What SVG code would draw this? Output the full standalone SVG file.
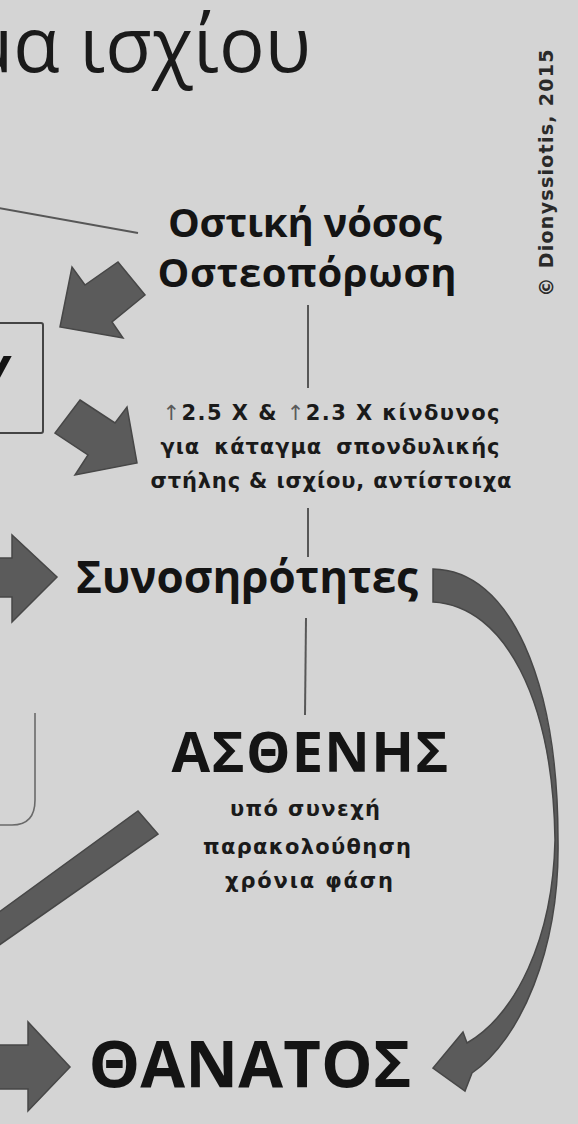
<svg xmlns="http://www.w3.org/2000/svg" width="578" height="1124" viewBox="0 0 578 1124">
<style>
.bg{fill:#d4d4d4}
.arrow{fill:#5b5b5b;stroke:#474747;stroke-width:1.5;stroke-linejoin:miter}
.line{stroke:#575757;stroke-width:2;fill:none}
.thin{stroke:#6a6a6a;stroke-width:1.6;fill:none}
.big{font-family:"Open Sans","Noto Sans",sans-serif;font-weight:700;fill:#141414;text-anchor:middle}
.small{font-family:"DejaVu Sans","Noto Sans",sans-serif;font-weight:700;fill:#1a1a1a;text-anchor:middle;font-size:21px}
.title{font-family:"Open Sans","Noto Sans",sans-serif;font-weight:400;fill:#1a1a1a;font-size:76px}
.copy{font-family:"DejaVu Sans","Liberation Sans",sans-serif;font-weight:700;fill:#2a2a2a;font-size:19px;text-anchor:middle}
</style>
<rect class="bg" x="0" y="0" width="578" height="1124"/>

<g id="title"><text class="title" x="311" y="72" text-anchor="end">μα ισχίου</text></g>
<g id="copyright"><text class="copy" transform="translate(553,173) rotate(-90)" x="0" y="0" textLength="247">© Dionyssiotis, 2015</text></g>

<g id="left-box">
<rect x="-20" y="323" width="63" height="110" rx="2" fill="none" stroke="#444" stroke-width="2"/>
<text class="big" x="-4" y="392" font-size="50">Υ</text>
<path class="thin" d="M35,713 L35,800 Q35,825 12,825 L-5,825"/>
</g>

<g id="osteo-node">
<text class="big" x="305" y="237" font-size="40" textLength="274">Οστική νόσος</text>
<text class="big" x="307" y="287" font-size="40" textLength="299">Οστεοπόρωση</text>
</g>

<g id="risk-node">
<text class="small" x="331" y="420" textLength="337"><tspan fill="#5a5a5a" font-weight="400">↑</tspan>2.5 X &amp; <tspan fill="#5a5a5a" font-weight="400">↑</tspan>2.3 X κίνδυνος</text>
<text class="small" x="330" y="454" textLength="339" word-spacing="6">για κάταγμα σπονδυλικής</text>
<text class="small" x="331" y="488" textLength="361">στήλης &amp; ισχίου, αντίστοιχα</text>
</g>

<g id="comorb-node">
<text class="big" x="247" y="593" font-size="44" textLength="342">Συνοσηρότητες</text>
</g>

<g id="patient-node">
<text class="big" x="310" y="772" font-size="56" textLength="277">ΑΣΘΕΝΗΣ</text>
<text class="small" x="305" y="816" font-size="20" textLength="150">υπό συνεχή</text>
<text class="small" x="307" y="854" font-size="20" textLength="208">παρακολούθηση</text>
<text class="small" x="309" y="888" font-size="20" textLength="168">χρόνια φάση</text>
</g>

<g id="death-node">
<text class="big" x="250" y="1087" font-size="65" textLength="323">ΘΑΝΑΤΟΣ</text>
</g>

<g id="connectors">
<line class="line" x1="-2" y1="208" x2="138" y2="233"/>
<line class="line" x1="308" y1="305" x2="308" y2="388"/>
<line class="line" x1="308" y1="508" x2="308" y2="557"/>
<line class="line" x1="306" y1="618" x2="305" y2="715"/>
<polygon class="arrow" points="60,327 72,267 85,285 118,262 145,295 112,322 123,338"/>
<polygon class="arrow" points="80,400 115,423 127,407 137,463 75,475 88,455 55,433"/>
<polygon class="arrow" points="-5,558 12,558 12,535 57,577 12,622 12,597 -5,597"/>
<polygon class="arrow" points="138,811 158,834 -5,948 -5,915"/>
<polygon class="arrow" points="-5,1045 28,1045 28,1022 70,1067 28,1111 28,1089 -5,1089"/>
<path class="arrow" d="M433,569 C510,570 558,680 558,840 C560,950 520,1040 472,1073 L465,1091 L433,1068 L463,1032 L467,1043 C515,1015 553,940 555,840 C553,700 505,606 433,602 Z"/>
</g>
</svg>
